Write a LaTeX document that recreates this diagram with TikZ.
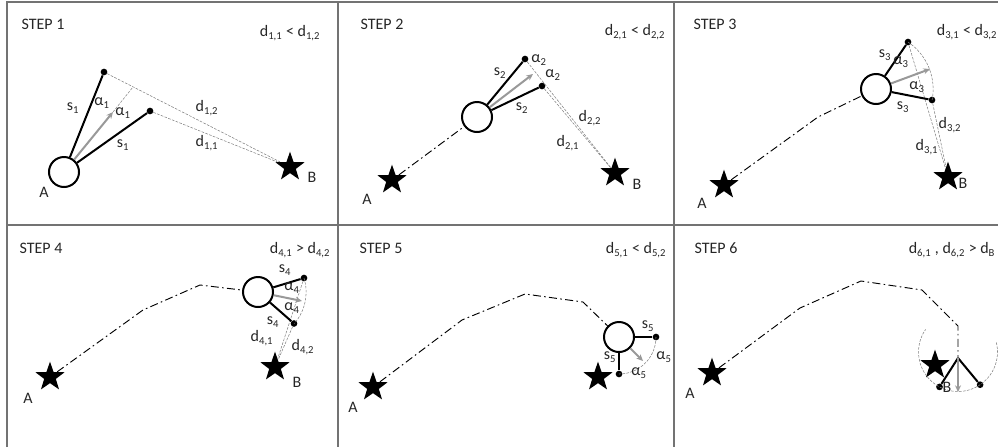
\documentclass[tikz,border=0pt]{standalone}
\usepackage{fontspec}
\setmainfont{Carlito}
\usepackage{tikz}
\usetikzlibrary{arrows.meta,shapes.geometric}
\newcommand{\ix}[1]{\textsubscript{#1}}
\tikzset{
  robot/.style   ={circle,draw=black,line width=1.5pt,fill=white,minimum size=22.5pt,
                   inner sep=0pt},
  goal/.style    ={star,star points=5,star point ratio=2.5,fill=black,minimum size=23pt,
                   inner sep=0pt},
  tipdot/.style  ={circle,fill=black,minimum size=5pt,inner sep=0pt},
  arm/.style     ={draw=black,line width=1.5pt},
  heading/.style ={-{Stealth[length=5pt,width=4.5pt]},draw=black!40,line width=1.5pt},
  dist/.style    ={draw=black!50,line width=0.4pt,dash pattern=on 2pt off 1pt},
  trail/.style   ={draw=black,line width=0.7pt,dash pattern=on 6pt off 2.5pt on 1.2pt off 2.5pt},
  frame/.style   ={draw=black!55,line width=0.9pt},
  lbl/.style     ={font=\fontsize{12}{14}\selectfont,inner sep=1pt,text=black!85},
  steptitle/.style={lbl,anchor=west},
}

\begin{document}
\begin{tikzpicture}[x=0.75pt,y=-0.75pt]
\useasboundingbox (0,0) rectangle (998,447);

%% ---------------- table frame ----------------
\draw[frame] (7,447) -- (7,2) -- (998,2);
\draw[frame] (338,2) -- (338,447);
\draw[frame] (674,2) -- (674,447);
\draw[frame] (7,225) -- (998,225);

%% ---------------- step 1 ----------------
\node[steptitle] (t1) at (20,24) {STEP 1};
\node[lbl] (c1) at (290,33) {d\ix{1,1} < d\ix{1,2}};
\node[goal] (b1) at (290,167) {};
\node[robot] (r1) at (64,172) {};
\node[tipdot] (u1) at (104,72) {};
\node[tipdot] (l1) at (150,111) {};
\coordinate (h1) at (113,112);
\coordinate (m1) at (133,87);
\draw[dist] (u1) -- (b1);
\draw[dist] (l1) -- (b1);
\draw[dist] (h1) -- (m1);
\draw[arm] (r1) -- (u1);
\draw[arm] (r1) -- (l1);
\draw[heading] (r1) -- (h1);
\node[lbl] (nA1) at (44,192) {A};
\node[lbl] (nB1) at (312,177) {B};
\node[lbl] at (73,108) {s\ix{1}};
\node[lbl] at (123,145) {s\ix{1}};
\node[lbl] at (102,103) {α\ix{1}};
\node[lbl] at (123,113) {α\ix{1}};
\node[lbl] at (207,108) {d\ix{1,2}};
\node[lbl] at (207,143) {d\ix{1,1}};

%% ---------------- step 2 ----------------
\node[steptitle] (t2) at (359,24) {STEP 2};
\node[lbl] (c2) at (635,32) {d\ix{2,1} < d\ix{2,2}};
\node[goal] (a2) at (392,180) {};
\node[goal] (b2) at (615,173) {};
\node[robot] (r2) at (477,117) {};
\node[tipdot] (u2) at (525,59) {};
\node[tipdot] (l2) at (542,86) {};
\coordinate (h2) at (533,74);
\draw[trail] (a2) -- (r2);
\draw[dist] (u2) -- (b2);
\draw[dist] (l2) -- (b2);
\draw[arm] (r2) -- (u2);
\draw[arm] (r2) -- (l2);
\draw[heading] (r2) -- (h2);
\node[lbl] (nA2) at (367,199) {A};
\node[lbl] (nB2) at (637,184) {B};
\node[lbl] at (500,73) {s\ix{2}};
\node[lbl] at (522,108) {s\ix{2}};
\node[lbl] at (539,60) {α\ix{2}};
\node[lbl] at (553,75) {α\ix{2}};
\node[lbl] at (590,118) {d\ix{2,2}};
\node[lbl] at (568,143) {d\ix{2,1}};

%% ---------------- step 3 ----------------
\node[steptitle] (t3) at (692,24) {STEP 3};
\node[lbl] (c3) at (967,32) {d\ix{3,1} < d\ix{3,2}};
\node[goal] (a3) at (724,185) {};
\node[goal] (b3) at (948,177) {};
\node[robot] (r3) at (876,89) {};
\node[tipdot] (u3) at (908,42) {};
\node[tipdot] (l3) at (932,100) {};
\coordinate (h3) at (930,69);
\coordinate (k3a) at (818,117);
\draw[trail] (a3) -- (k3a) -- (r3);
\draw[dist] (u3.center) arc[start angle=-56,end angle=11,radius=57];
\draw[dist] (u3) -- (b3);
\draw[dist] (l3) -- (b3);
\draw[arm] (r3) -- (u3);
\draw[arm] (r3) -- (l3);
\draw[heading] (r3) -- (h3);
\node[lbl] (nA3) at (702,203) {A};
\node[lbl] (nB3) at (963,183) {B};
\node[lbl] at (885,55) {s\ix{3}};
\node[lbl] at (903,107) {s\ix{3}};
\node[lbl] at (901,62) {α\ix{3}};
\node[lbl] at (917,87) {α\ix{3}};
\node[lbl] at (950,125) {d\ix{3,2}};
\node[lbl] at (927,147) {d\ix{3,1}};

%% ---------------- step 4 ----------------
\node[steptitle] (t4) at (18,248) {STEP 4};
\node[lbl] (c4) at (300,250) {d\ix{4,1} > d\ix{4,2}};
\node[goal] (a4) at (50,377) {};
\node[goal] (b4) at (275,367) {};
\node[robot] (r4) at (258,292) {};
\node[tipdot] (u4) at (304,278) {};
\node[tipdot] (l4) at (294,323.5) {};
\coordinate (h4) at (302,301);
\coordinate (k4a) at (143,310);
\coordinate (k4b) at (200,285);
\draw[trail] (a4) -- (k4a) -- (k4b) -- (r4);
\draw[dist] (u4.center) arc[start angle=-17,end angle=41,radius=48];
\draw[dist] (u4) -- (b4);
\draw[dist] (l4) -- (b4);
\draw[arm] (r4) -- (u4);
\draw[arm] (r4) -- (l4);
\draw[heading] (r4) -- (h4);
\node[lbl] (nA4) at (28,398) {A};
\node[lbl] (nB4) at (297,382) {B};
\node[lbl] at (285,270) {s\ix{4}};
\node[lbl] at (273,322) {s\ix{4}};
\node[lbl] at (292,288) {α\ix{4}};
\node[lbl] at (292,308) {α\ix{4}};
\node[lbl] at (262,338) {d\ix{4,1}};
\node[lbl] at (303,347) {d\ix{4,2}};

%% ---------------- step 5 ----------------
\node[steptitle] (t5) at (358,248) {STEP 5};
\node[lbl] (c5) at (636,250) {d\ix{5,1} < d\ix{5,2}};
\node[goal] (a5) at (373,387) {};
\node[goal] (b5) at (598,377) {};
\node[robot] (r5) at (619,337) {};
\node[tipdot] (u5) at (656,337) {};
\node[tipdot] (l5) at (619,374) {};
\coordinate (h5) at (643,361);
\coordinate (k5a) at (462,320);
\coordinate (k5b) at (525,294);
\coordinate (k5c) at (583,302);
\draw[trail] (a5) -- (k5a) -- (k5b) -- (k5c) -- (r5);
\draw[dist] (u5.center) arc[start angle=0,end angle=90,radius=37];
\draw[arm] (r5) -- (u5);
\draw[arm] (r5) -- (l5);
\draw[heading] (r5) -- (h5);
\node[lbl] (nA5) at (353,407) {A};
\node[lbl] at (648,326) {s\ix{5}};
\node[lbl] at (610,357) {s\ix{5}};
\node[lbl] at (664,357) {α\ix{5}};
\node[lbl] at (639,373) {α\ix{5}};

%% ---------------- step 6 ----------------
\node[steptitle] (t6) at (693,248) {STEP 6};
\node[lbl] (c6t) at (952,250) {d\ix{6,1} , d\ix{6,2} > d\ix{B}};
\node[goal] (a6) at (712,373) {};
\node[goal] (b6) at (935,365) {};
\coordinate (c6) at (958,352);
\coordinate (p6) at (958,358);
\node[tipdot] (l6) at (939.5,386.9) {};
\node[tipdot] (u6) at (980.1,384.7) {};
\coordinate (h6) at (958,392);
\coordinate (k6a) at (800,308);
\coordinate (k6b) at (861,281);
\coordinate (k6c) at (922,290);
\coordinate (k6d) at (958,326);
\draw[trail] (a6) -- (k6a) -- (k6b) -- (k6c) -- (k6d) -- (p6);
\draw[dist] (c6) ++(-14:39.5) arc[start angle=-14,end angle=215,radius=39.5];
\draw[arm] (p6) -- (l6);
\draw[arm] (p6) -- (u6);
\draw[heading] (p6) -- (h6);
\node[lbl] (nA6) at (690,393) {A};
\node[lbl] (nB6) at (947,387) {B};

\end{tikzpicture}
\end{document}
